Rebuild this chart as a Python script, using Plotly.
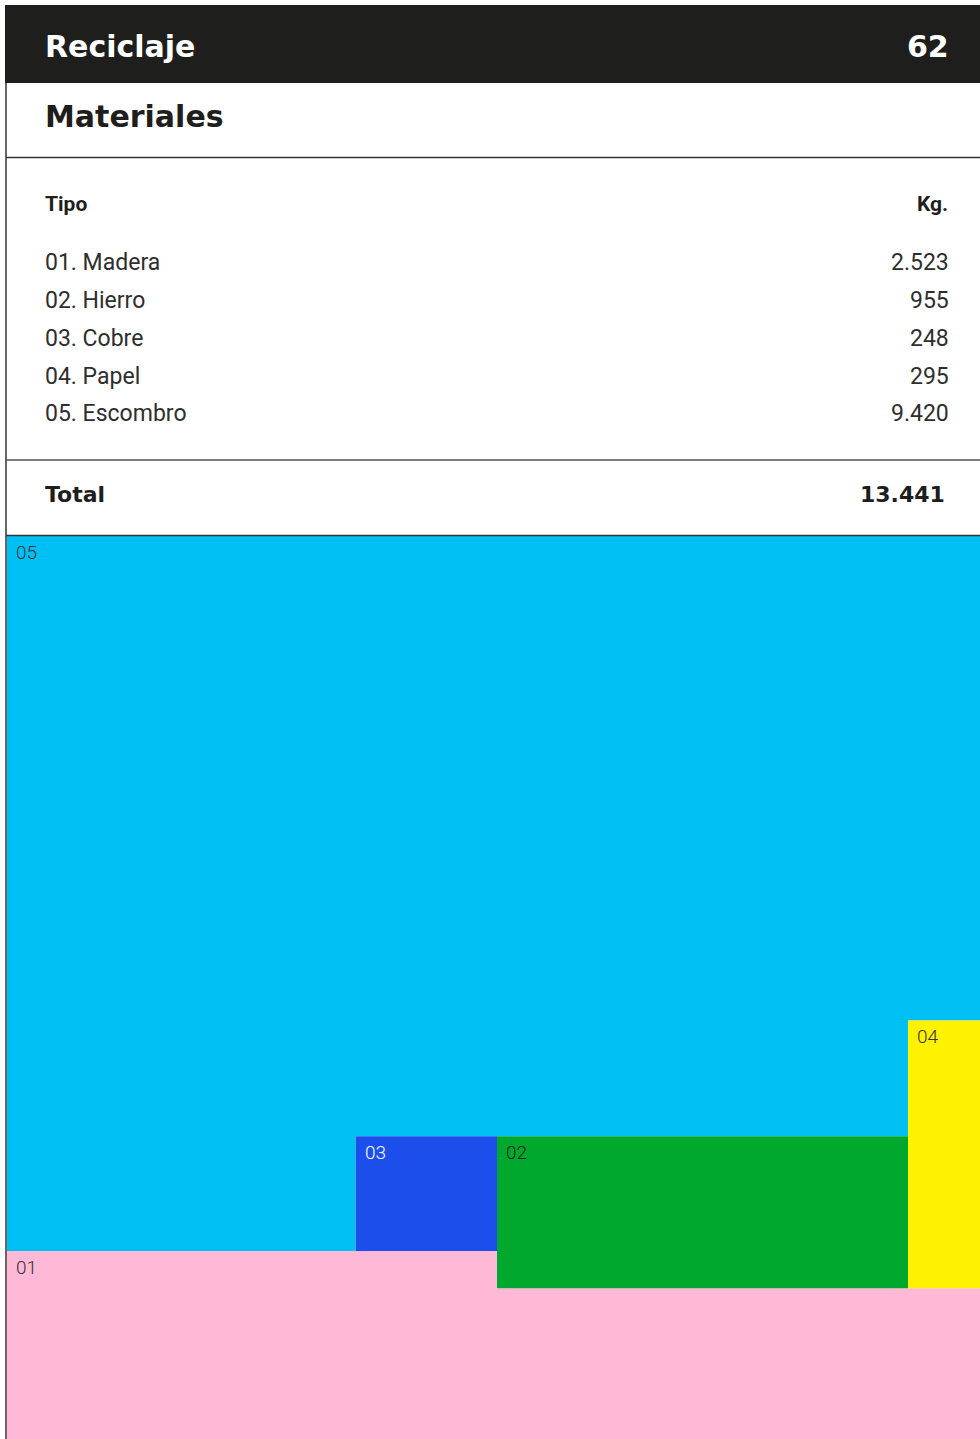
import plotly.graph_objects as go

# ---------------- data ----------------
page_title = "Reciclaje"
page_number = "62"
section_title = "Materiales"
col_tipo = "Tipo"
col_kg = "Kg."
codes = ["01", "02", "03", "04", "05"]
tipos = ["Madera", "Hierro", "Cobre", "Papel", "Escombro"]
kg = [2523, 955, 248, 295, 9420]
total_label = "Total"
colors = ["#FFB8D6", "#00A82D", "#1C4EEB", "#FFF200", "#00C0F3"]
label_colors = ["#333333", "#1e1e1e", "#FFFFFF", "#333333", "#333333"]

# ---------------- helpers ----------------
W, H = 980, 1439
def px(x):
    return x / W
def py(y):
    return 1 - y / H

def fmt(v):
    return f"{v:,}".replace(",", ".")

total = sum(kg)
frac = [v / total for v in kg]  # area fractions of the unit square

# ---------------- area layout (layout params, areas from data) ----------------
a = 0.5036   # x where pink step / green start
b = 0.926    # x where green ends / yellow starts
s = 0.167    # height of pink strip across full width
pink_top = s + (frac[0] - s * 1.0) / a
green_top = s + frac[1] / (b - a)
c = a - frac[2] / (green_top - pink_top)
yellow_top = s + frac[3] / (1 - b)

polys = {
    0: ([0, 1, 1, a, a, 0, 0], [0, 0, s, s, pink_top, pink_top, 0]),
    1: ([a, b, b, a, a], [s, s, green_top, green_top, s]),
    2: ([c, a, a, c, c], [pink_top, pink_top, green_top, green_top, pink_top]),
    3: ([b, 1, 1, b, b], [s, s, yellow_top, yellow_top, s]),
    4: ([0, 1, 1, b, b, c, c, 0, 0],
        [1, 1, yellow_top, yellow_top, green_top, green_top, pink_top, pink_top, 1]),
}
label_pos = {0: (0, pink_top), 1: (a, green_top), 2: (c, green_top),
             3: (b, yellow_top), 4: (0, 1)}

fig = go.Figure()
for i in [4, 0, 1, 2, 3]:
    xs, ys = polys[i]
    fig.add_trace(go.Scatter(
        x=xs, y=ys, mode="lines", fill="toself", fillcolor=colors[i],
        line=dict(width=0, color=colors[i]),
        name=f"{codes[i]}. {tipos[i]}",
        text=f"{codes[i]}. {tipos[i]}: {fmt(kg[i])} kg", hoverinfo="text",
        hoveron="fills",
    ))

annotations = []
for i in range(5):
    lx, ly = label_pos[i]
    annotations.append(dict(
        x=lx, y=ly, xref="x", yref="y", text=codes[i], showarrow=False,
        xanchor="left", yanchor="top", xshift=7, yshift=-3,
        font=dict(family="Roboto", size=19, color=label_colors[i], weight=300),
    ))

HEAD_FONT = "DejaVu Sans"
# header
annotations.append(dict(x=px(43), y=py(47), xref="paper", yref="paper", text=page_title,
                        showarrow=False, xanchor="left", yanchor="middle",
                        font=dict(family=HEAD_FONT, size=30, color="white", weight=700)))
annotations.append(dict(x=px(951), y=py(47), xref="paper", yref="paper", text=page_number,
                        showarrow=False, xanchor="right", yanchor="middle",
                        font=dict(family=HEAD_FONT, size=30, color="white", weight=700)))
annotations.append(dict(x=px(43), y=py(117), xref="paper", yref="paper", text=section_title,
                        showarrow=False, xanchor="left", yanchor="middle",
                        font=dict(family=HEAD_FONT, size=30, color="#1e1e1c", weight=700)))
# table header
annotations.append(dict(x=px(43), y=py(204), xref="paper", yref="paper", text=col_tipo,
                        showarrow=False, xanchor="left", yanchor="middle",
                        font=dict(family="Roboto", size=21, color="#1e1e1c", weight=700)))
annotations.append(dict(x=px(950), y=py(204), xref="paper", yref="paper", text=col_kg,
                        showarrow=False, xanchor="right", yanchor="middle",
                        font=dict(family="Roboto", size=21, color="#1e1e1c", weight=700)))
# rows
row_y0, row_dy = 262, 38
for i in range(5):
    yy = py(row_y0 + i * row_dy)
    annotations.append(dict(x=px(43), y=yy, xref="paper", yref="paper",
                            text=f"{codes[i]}. {tipos[i]}", showarrow=False,
                            xanchor="left", yanchor="middle",
                            font=dict(family="Roboto", size=23, color="#2e2e2e", weight=400)))
    annotations.append(dict(x=px(951), y=yy, xref="paper", yref="paper",
                            text=fmt(kg[i]), showarrow=False,
                            xanchor="right", yanchor="middle",
                            font=dict(family="Roboto", size=23, color="#2e2e2e", weight=400)))
# total
annotations.append(dict(x=px(43), y=py(494), xref="paper", yref="paper", text=total_label,
                        showarrow=False, xanchor="left", yanchor="middle",
                        font=dict(family=HEAD_FONT, size=22, color="#1e1e1c", weight=700)))
annotations.append(dict(x=px(947), y=py(494), xref="paper", yref="paper", text=fmt(total),
                        showarrow=False, xanchor="right", yanchor="middle",
                        font=dict(family=HEAD_FONT, size=22, color="#1e1e1c", weight=700)))

shapes = [
    dict(type="rect", xref="paper", yref="paper", x0=px(5), x1=1.0, y0=py(83), y1=py(5),
         fillcolor="#1e1e1c", line=dict(width=0), layer="below"),
    dict(type="line", xref="paper", yref="paper", x0=px(6), x1=px(6), y0=py(1439), y1=py(83),
         line=dict(color="#333333", width=1.5)),
    dict(type="line", xref="paper", yref="paper", x0=px(6), x1=1.0, y0=py(157.5), y1=py(157.5),
         line=dict(color="#333333", width=1.5)),
    dict(type="line", xref="paper", yref="paper", x0=px(6), x1=1.0, y0=py(460), y1=py(460),
         line=dict(color="#555555", width=1.5)),
    dict(type="line", xref="paper", yref="paper", x0=px(6), x1=1.0, y0=py(535.5), y1=py(535.5),
         line=dict(color="#333333", width=1.5)),
]

fig.update_layout(
    width=W, height=H,
    margin=dict(l=0, r=0, t=0, b=0),
    paper_bgcolor="white", plot_bgcolor="white",
    showlegend=False,
    xaxis=dict(domain=[px(7), 1.0], range=[0, 1], visible=False, fixedrange=True),
    yaxis=dict(domain=[0, py(536)], range=[0, 1], visible=False, fixedrange=True),
    annotations=annotations,
    shapes=shapes,
    hovermode="closest",
)

fig.write_html("out.html", config={"displayModeBar": False},
               post_script="document.body.style.margin='0px';document.body.style.overflow='hidden';")
